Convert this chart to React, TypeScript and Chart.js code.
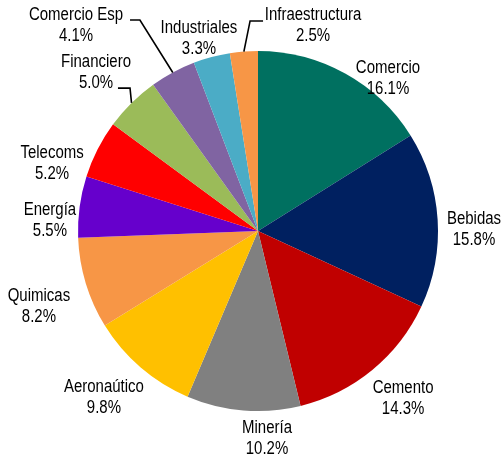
import React, { useEffect, useRef } from "react";
import { Chart, registerables } from "chart.js";

Chart.register(...registerables);

const categories = [
  "Comercio",
  "Bebidas",
  "Cemento",
  "Minería",
  "Aeronaútico",
  "Quimicas",
  "Energía",
  "Telecoms",
  "Financiero",
  "Comercio Esp",
  "Industriales",
  "Infraestructura",
];
const shares = [16.1, 15.8, 14.3, 10.2, 9.8, 8.2, 5.5, 5.2, 5.0, 4.1, 3.3, 2.5];
const colors = [
  "#007060",
  "#002060",
  "#C00000",
  "#808080",
  "#FFC000",
  "#F79646",
  "#6600CC",
  "#FF0000",
  "#9BBB59",
  "#8064A2",
  "#4BACC6",
  "#F79646",
];

// label placement relative to pie centre, in units of the radius
const labelPos: [number, number][] = [
  [0.722, -0.85],
  [1.2, -0.006],
  [0.806, 0.933],
  [0.05, 1.15],
  [-0.856, 0.922],
  [-1.217, 0.417],
  [-1.156, -0.056],
  [-1.144, -0.378],
  [-0.9, -0.883],
  [-1.011, -1.144],
  [-0.328, -1.067],
  [0.306, -1.144],
];
// leader lines: [elbow, end] relative to centre in radius units, or null
const leaders: ([number, number][] | null)[] = [
  null, null, null, null, null, null, null, null,
  [[-0.711, -0.794], [-0.778, -0.794]],
  [[-0.656, -1.172], [-0.711, -1.172]],
  null,
  [[-0.044, -1.167], [0.028, -1.167]],
];

const labelPlugin = {
  id: "outLabels",
  afterDatasetsDraw(chart: any) {
    const ctx = chart.ctx;
    const meta = chart.getDatasetMeta(0);
    ctx.save();
    ctx.font = "15px 'Liberation Sans', Arial, sans-serif";
    ctx.fillStyle = "#000";
    ctx.textAlign = "center";
    ctx.textBaseline = "middle";
    meta.data.forEach((arc: any, i: number) => {
      const { x, y, outerRadius, startAngle, endAngle } = arc.getProps(
        ["x", "y", "outerRadius", "startAngle", "endAngle"],
        true
      );
      const R = outerRadius;
      const mid = (startAngle + endAngle) / 2;
      const ld = leaders[i];
      if (ld) {
        ctx.beginPath();
        ctx.strokeStyle = "#000";
        ctx.lineWidth = 1.6;
        ctx.moveTo(x + Math.cos(mid) * R, y + Math.sin(mid) * R);
        ld.forEach((p) => ctx.lineTo(x + p[0] * R, y + p[1] * R));
        ctx.stroke();
      }
      const lx = x + labelPos[i][0] * R;
      const ly = y + labelPos[i][1] * R;
      const lines = [categories[i], shares[i].toFixed(1) + "%"];
      lines.forEach((t, k) => {
        ctx.save();
        ctx.translate(lx, ly + (k === 0 ? -10.5 : 10.5));
        ctx.scale(1, 1.22);
        ctx.fillText(t, 0, 0);
        ctx.restore();
      });
    });
    ctx.restore();
  },
};

export default function App() {
  const ref = useRef<HTMLCanvasElement | null>(null);
  useEffect(() => {
    if (!ref.current) return;
    const chart = new Chart(ref.current, {
      type: "pie",
      data: {
        labels: categories,
        datasets: [
          {
            data: shares,
            backgroundColor: colors,
            borderWidth: 0,
          },
        ],
      },
      options: {
        responsive: false,
        animation: false,
        devicePixelRatio: 1,
        layout: { padding: { left: 78, right: 65, top: 51, bottom: 48 } },
        plugins: {
          legend: { display: false },
          tooltip: { enabled: false },
        },
      },
      plugins: [labelPlugin],
    });
    return () => chart.destroy();
  }, []);
  return (
    <div style={{ position: "fixed", left: 0, top: 0, width: 503, height: 459, background: "#fff" }}>
      <canvas ref={ref} width={503} height={459} style={{ width: 503, height: 459 }} />
    </div>
  );
}
